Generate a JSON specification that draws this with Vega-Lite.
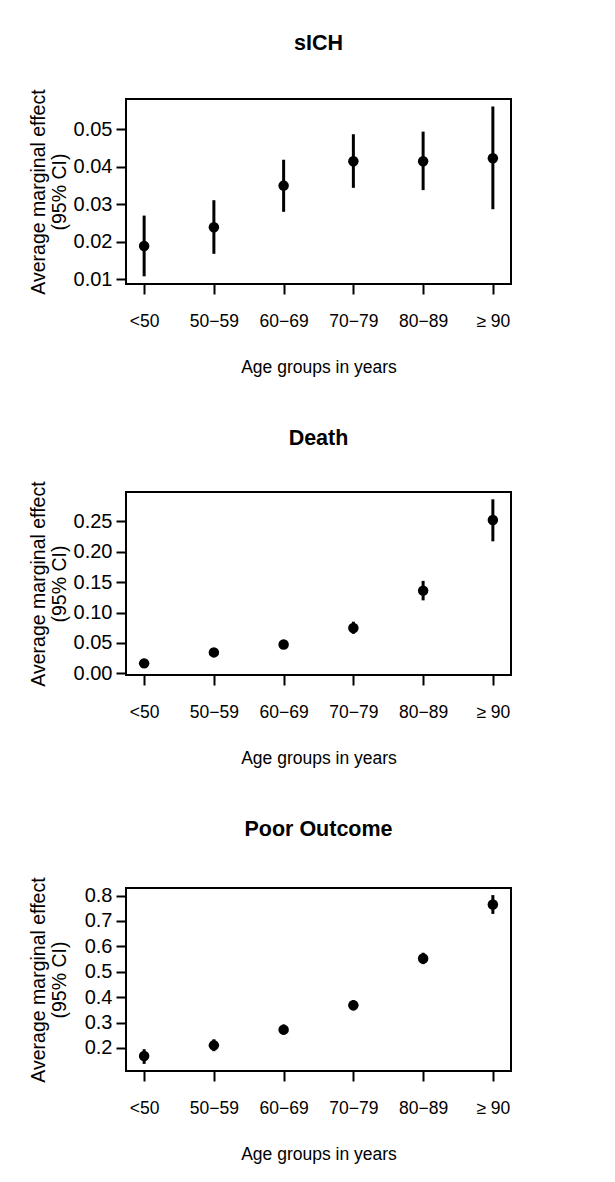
{
  "$schema": "https://vega.github.io/schema/vega-lite/v6.json",
  "background": "white",
  "padding": {"left": 26, "top": 32, "right": 10, "bottom": 10},
  "datasets": {
    "sich": [
      {"age": "<50", "est": 0.0189, "lo": 0.0108, "hi": 0.0270},
      {"age": "50−59", "est": 0.0239, "lo": 0.0168, "hi": 0.0311},
      {"age": "60−69", "est": 0.0350, "lo": 0.0280, "hi": 0.0419},
      {"age": "70−79", "est": 0.0415, "lo": 0.0344, "hi": 0.0487},
      {"age": "80−89", "est": 0.0415, "lo": 0.0338, "hi": 0.0494},
      {"age": "≥ 90", "est": 0.0423, "lo": 0.0287, "hi": 0.0561}
    ],
    "death": [
      {"age": "<50", "est": 0.0165, "lo": 0.009, "hi": 0.024},
      {"age": "50−59", "est": 0.0345, "lo": 0.028, "hi": 0.041},
      {"age": "60−69", "est": 0.0476, "lo": 0.041, "hi": 0.055},
      {"age": "70−79", "est": 0.0745, "lo": 0.065, "hi": 0.085},
      {"age": "80−89", "est": 0.136, "lo": 0.120, "hi": 0.152},
      {"age": "≥ 90", "est": 0.252, "lo": 0.217, "hi": 0.286}
    ],
    "poor": [
      {"age": "<50", "est": 0.168, "lo": 0.137, "hi": 0.195},
      {"age": "50−59", "est": 0.210, "lo": 0.187, "hi": 0.234},
      {"age": "60−69", "est": 0.272, "lo": 0.252, "hi": 0.292},
      {"age": "70−79", "est": 0.368, "lo": 0.348, "hi": 0.388},
      {"age": "80−89", "est": 0.552, "lo": 0.530, "hi": 0.575},
      {"age": "≥ 90", "est": 0.765, "lo": 0.728, "hi": 0.802}
    ]
  },
  "config": {
    "font": "Liberation Sans",
    "view": {"stroke": "black", "strokeWidth": 2},
    "axis": {
      "grid": false, "domain": false,
      "tickColor": "black", "tickSize": 10, "tickWidth": 2,
      "labelColor": "black", "labelFont": "Liberation Sans", "labelFontSize": 17.5,
      "titleFont": "Liberation Sans", "titleFontSize": 17.5, "titleFontWeight": "normal", "titleColor": "black"
    },
    "axisX": {"labelAngle": 0, "labelPadding": 18, "titlePadding": 29},
    "axisY": {"labelPadding": 4, "titleX": -78, "titleLineHeight": 21, "labelOverlap": false, "labelFontSize": 20, "titleFontSize": 19.5},
    "title": {"fontSize": 21.5, "fontWeight": "bold", "color": "black", "anchor": "middle", "frame": "group", "offset": 34, "font": "Liberation Sans"},
    "concat": {"spacing": 50}
  },
  "vconcat": [
    {
      "title": "sICH",
      "width": 385, "height": 185,
      "data": {"name": "sich"},
      "encoding": {
        "x": {"field": "age", "type": "ordinal", "sort": ["<50", "50−59", "60−69", "70−79", "80−89", "≥ 90"], "scale": {"type": "point", "padding": 0.26}, "axis": {"title": "Age groups in years"}}
      },
      "layer": [
        {
          "mark": {"type": "rule", "strokeWidth": 3, "color": "black"},
          "encoding": {
            "y": {"field": "lo", "type": "quantitative", "scale": {"domain": [0.00875, 0.0581], "nice": false, "zero": false}, "axis": {"values": [0.01, 0.02, 0.03, 0.04, 0.05], "format": ".2f", "title": ["Average marginal effect", "(95% CI)"]}},
            "y2": {"field": "hi"}
          }
        },
        {
          "mark": {"type": "point", "filled": true, "size": 110, "color": "black", "opacity": 1},
          "encoding": {"y": {"field": "est", "type": "quantitative", "axis": {"values": [0.01, 0.02, 0.03, 0.04, 0.05], "format": ".2f", "title": ["Average marginal effect", "(95% CI)"]}}}
        }
      ]
    },
    {
      "title": {"text": "Death", "offset": 31},
      "width": 385, "height": 183,
      "data": {"name": "death"},
      "encoding": {
        "x": {"field": "age", "type": "ordinal", "sort": ["<50", "50−59", "60−69", "70−79", "80−89", "≥ 90"], "scale": {"type": "point", "padding": 0.26}, "axis": {"title": "Age groups in years"}}
      },
      "layer": [
        {
          "mark": {"type": "rule", "strokeWidth": 3, "color": "black"},
          "encoding": {
            "y": {"field": "lo", "type": "quantitative", "scale": {"domain": [-0.0026, 0.298], "nice": false, "zero": false}, "axis": {"values": [0, 0.05, 0.1, 0.15, 0.2, 0.25], "format": ".2f", "title": ["Average marginal effect", "(95% CI)"]}},
            "y2": {"field": "hi"}
          }
        },
        {
          "mark": {"type": "point", "filled": true, "size": 110, "color": "black", "opacity": 1},
          "encoding": {"y": {"field": "est", "type": "quantitative", "axis": {"values": [0, 0.05, 0.1, 0.15, 0.2, 0.25], "format": ".2f", "title": ["Average marginal effect", "(95% CI)"]}}}
        }
      ]
    },
    {
      "title": {"text": "Poor Outcome", "offset": 36},
      "width": 385, "height": 183,
      "data": {"name": "poor"},
      "encoding": {
        "x": {"field": "age", "type": "ordinal", "sort": ["<50", "50−59", "60−69", "70−79", "80−89", "≥ 90"], "scale": {"type": "point", "padding": 0.26}, "axis": {"title": "Age groups in years"}}
      },
      "layer": [
        {
          "mark": {"type": "rule", "strokeWidth": 3, "color": "black"},
          "encoding": {
            "y": {"field": "lo", "type": "quantitative", "scale": {"domain": [0.109, 0.830], "nice": false, "zero": false}, "axis": {"values": [0.2, 0.3, 0.4, 0.5, 0.6, 0.7, 0.8], "format": ".1f", "title": ["Average marginal effect", "(95% CI)"]}},
            "y2": {"field": "hi"}
          }
        },
        {
          "mark": {"type": "point", "filled": true, "size": 110, "color": "black", "opacity": 1},
          "encoding": {"y": {"field": "est", "type": "quantitative", "axis": {"values": [0.2, 0.3, 0.4, 0.5, 0.6, 0.7, 0.8], "format": ".1f", "title": ["Average marginal effect", "(95% CI)"]}}}
        }
      ]
    }
  ]
}
